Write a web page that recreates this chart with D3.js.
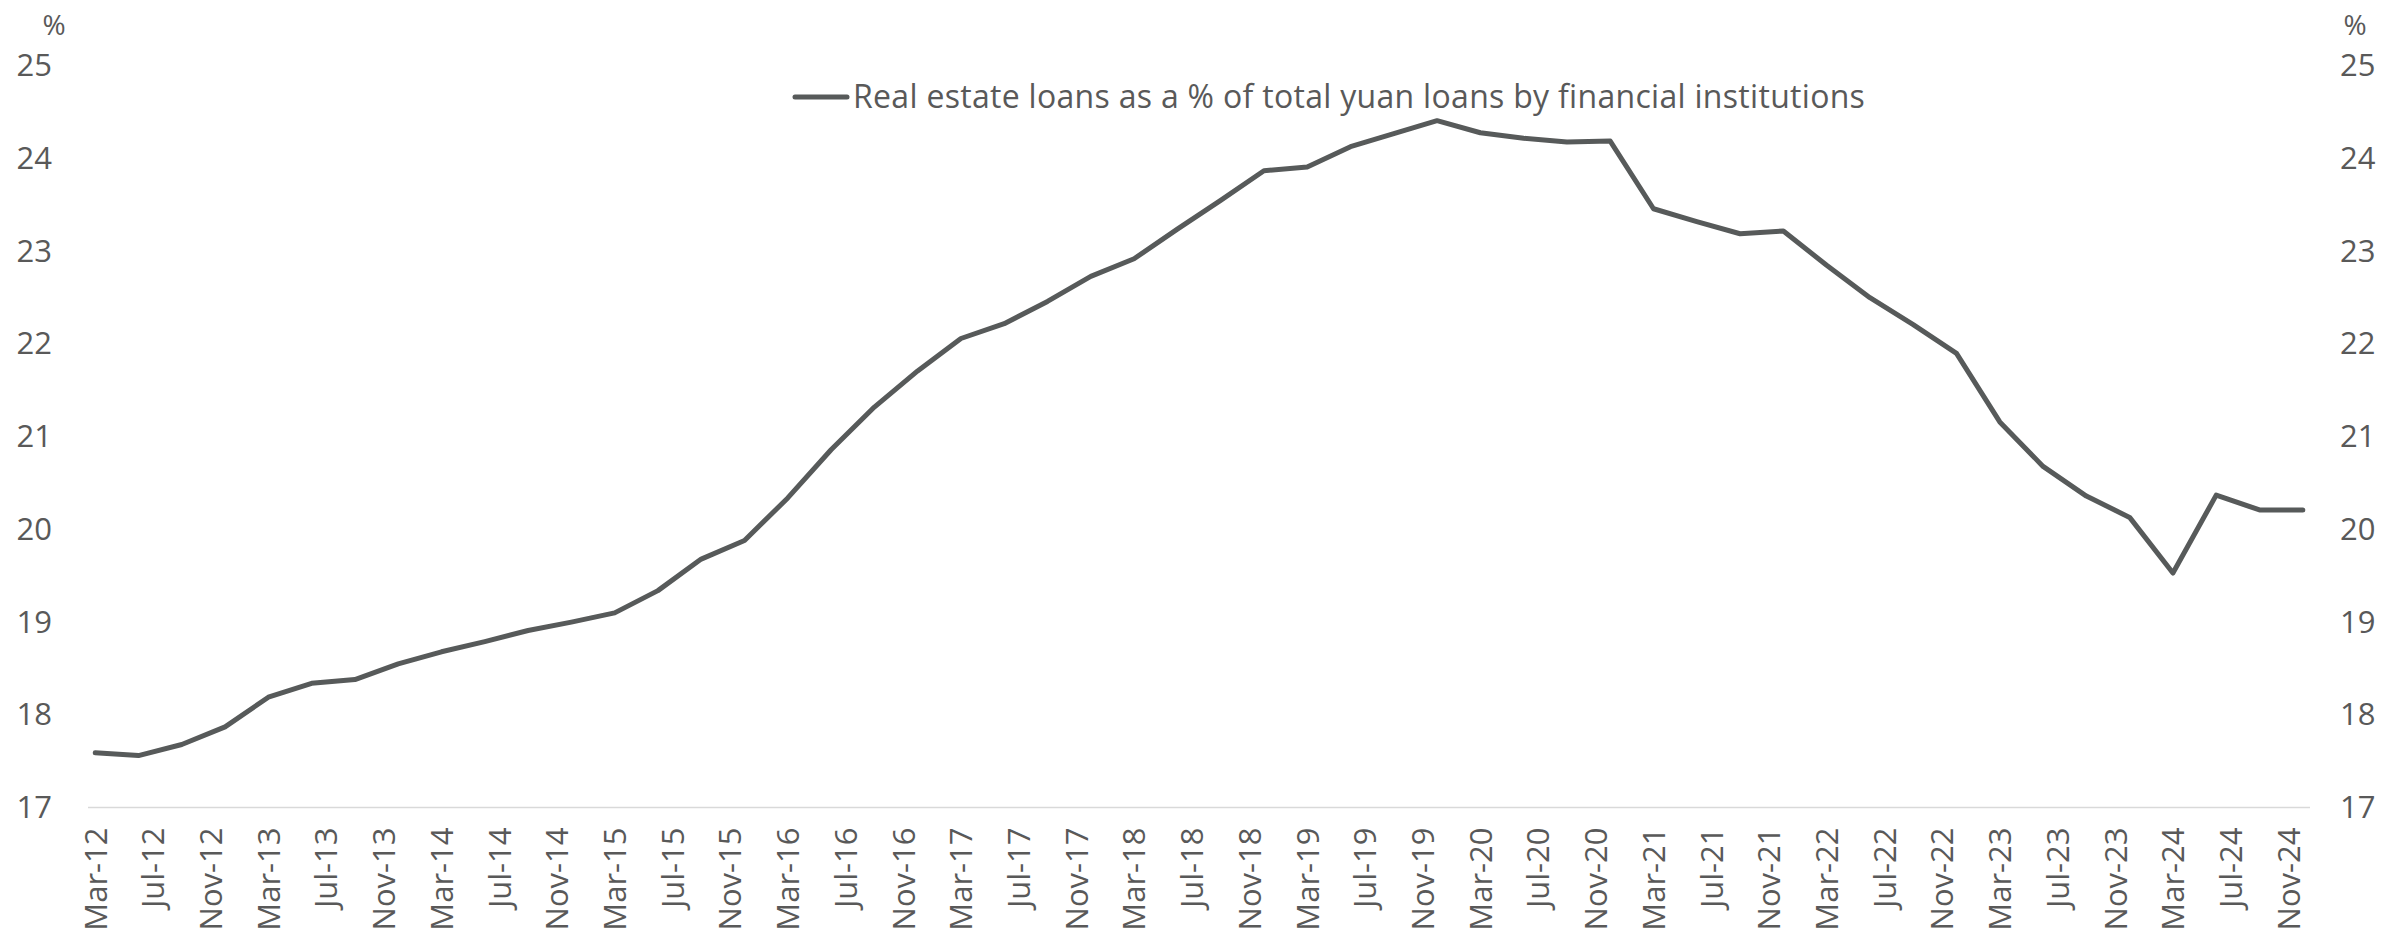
<!DOCTYPE html>
<html>
<head>
<meta charset="utf-8">
<script src="https://cdn.jsdelivr.net/npm/d3@7"></script>
<style>
  html, body { margin: 0; padding: 0; background: #fff; }
  svg { display: block; }
  text { font-family: "Open Sans", "Noto Sans", sans-serif; fill: #595959; }
</style>
</head>
<body>
<svg id="chart" width="2407" height="949"></svg>
<script>
// ---- Data ----
const quarters = [
  "Mar-12","Jun-12","Sep-12","Dec-12",
  "Mar-13","Jun-13","Sep-13","Dec-13",
  "Mar-14","Jun-14","Sep-14","Dec-14",
  "Mar-15","Jun-15","Sep-15","Dec-15",
  "Mar-16","Jun-16","Sep-16","Dec-16",
  "Mar-17","Jun-17","Sep-17","Dec-17",
  "Mar-18","Jun-18","Sep-18","Dec-18",
  "Mar-19","Jun-19","Sep-19","Dec-19",
  "Mar-20","Jun-20","Sep-20","Dec-20",
  "Mar-21","Jun-21","Sep-21","Dec-21",
  "Mar-22","Jun-22","Sep-22","Dec-22",
  "Mar-23","Jun-23","Sep-23","Dec-23",
  "Mar-24","Jun-24","Sep-24","Dec-24"
];
const realEstateShare = [
  17.59, 17.56, 17.68, 17.87,
  18.19, 18.34, 18.38, 18.55,
  18.68, 18.79, 18.91, 19.00,
  19.10, 19.34, 19.68, 19.88,
  20.34, 20.86, 21.32, 21.71,
  22.06, 22.22, 22.46, 22.73,
  22.92, 23.24, 23.55, 23.87,
  23.91, 24.13, 24.27, 24.41,
  24.28, 24.22, 24.18, 24.19,
  23.46, 23.32, 23.19, 23.22,
  22.85, 22.50, 22.21, 21.90,
  21.16, 20.68, 20.36, 20.13,
  19.53, 20.37, 20.21, 20.21
];
const xTickLabels = [
  "Mar-12","Jul-12","Nov-12","Mar-13","Jul-13","Nov-13","Mar-14","Jul-14","Nov-14",
  "Mar-15","Jul-15","Nov-15","Mar-16","Jul-16","Nov-16","Mar-17","Jul-17","Nov-17",
  "Mar-18","Jul-18","Nov-18","Mar-19","Jul-19","Nov-19","Mar-20","Jul-20","Nov-20",
  "Mar-21","Jul-21","Nov-21","Mar-22","Jul-22","Nov-22","Mar-23","Jul-23","Nov-23",
  "Mar-24","Jul-24","Nov-24"
];
const yTicks = [17, 18, 19, 20, 21, 22, 23, 24, 25];
const seriesName = "Real estate loans as a % of total yuan loans by financial institutions";
const unitLabel = "%";

// ---- Helpers ----
const monthNames = ["Jan","Feb","Mar","Apr","May","Jun","Jul","Aug","Sep","Oct","Nov","Dec"];
function monthIndex(lbl) {
  const [m, y] = lbl.split("-");
  return (2000 + (+y) - 2012) * 12 + monthNames.indexOf(m) - 2;
}
const data = quarters.map((q, i) => ({ q, t: monthIndex(q), v: realEstateShare[i] }));
const firstIdx = monthIndex(quarters[0]);
const lastIdx = monthIndex(quarters[quarters.length - 1]);

// ---- Layout ----
const svg = d3.select("#chart");
const plot = { left: 88, right: 2310, top: 66, bottom: 807.5 };
const color = "#575a5a";
const fs = 31;

const x = d3.scaleLinear().domain([firstIdx - 0.5, lastIdx + 0.5]).range([plot.left, plot.right]);
const y = d3.scaleLinear().domain([17, 25]).range([plot.bottom, plot.top]);

// baseline gridline
svg.append("line")
  .attr("x1", plot.left).attr("x2", plot.right)
  .attr("y1", y(17)).attr("y2", y(17))
  .attr("stroke", "#d9d9d9").attr("stroke-width", 1.5);

// left y axis
const yLeft = svg.append("g").attr("transform", `translate(52,0)`)
  .call(d3.axisLeft(y).tickValues(yTicks).tickSize(0).tickPadding(0).tickFormat(d3.format("d")));
yLeft.select(".domain").remove();
yLeft.selectAll("text").style("font-size", fs + "px").attr("fill", "#595959");

// right y axis
const yRight = svg.append("g").attr("transform", `translate(2340,0)`)
  .call(d3.axisRight(y).tickValues(yTicks).tickSize(0).tickPadding(0).tickFormat(d3.format("d")));
yRight.select(".domain").remove();
yRight.selectAll("text").style("font-size", fs + "px").attr("fill", "#595959");

// units
svg.append("text").attr("x", 54).attr("y", 25).attr("dy", "0.35em").attr("text-anchor", "middle")
  .style("font-size", "28px").text(unitLabel);
svg.append("text").attr("x", 2355).attr("y", 25).attr("dy", "0.35em").attr("text-anchor", "middle")
  .style("font-size", "28px").text(unitLabel);

// x axis
const xAxis = svg.append("g").attr("transform", `translate(0,${plot.bottom})`)
  .call(d3.axisBottom(x).tickValues(xTickLabels.map(monthIndex)).tickSize(0)
    .tickFormat((d, i) => xTickLabels[i]));
xAxis.select(".domain").remove();
xAxis.selectAll("text")
  .style("font-size", fs + "px")
  .attr("fill", "#595959")
  .attr("text-anchor", "end")
  .attr("transform", "rotate(-90)")
  .attr("x", -20)
  .attr("y", 0)
  .attr("dy", "0.35em");

// line
const line = d3.line().x(d => x(d.t)).y(d => y(d.v));
svg.append("path").datum(data)
  .attr("d", line)
  .attr("fill", "none")
  .attr("stroke", color)
  .attr("stroke-width", 5)
  .attr("stroke-linejoin", "round")
  .attr("stroke-linecap", "round");

// legend
const lg = svg.append("g").attr("transform", "translate(795,97)");
lg.append("line").attr("x1", 0).attr("x2", 52).attr("y1", 0).attr("y2", 0)
  .attr("stroke", color).attr("stroke-width", 5).attr("stroke-linecap", "round");
lg.append("text").attr("x", 58).attr("y", 0).attr("dy", "0.35em")
  .style("font-size", "32px").style("letter-spacing", "0.3px").text(seriesName);
</script>
</body>
</html>
